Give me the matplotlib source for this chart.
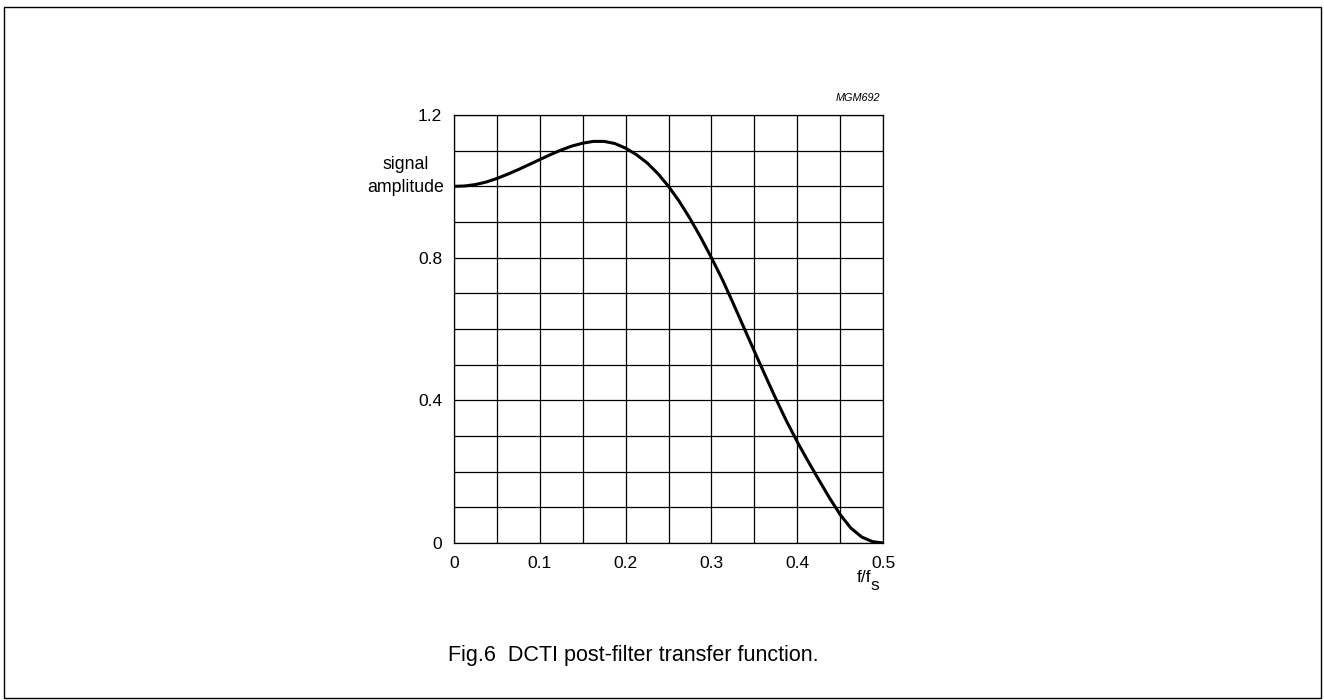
import matplotlib
matplotlib.use("Agg")
import matplotlib.pyplot as plt
from matplotlib.patches import Rectangle
import numpy as np

# values
freq = [0.0, 0.0125, 0.025, 0.0375, 0.05, 0.0625, 0.075, 0.0875, 0.1, 0.1125,
        0.125, 0.1375, 0.15, 0.1625, 0.175, 0.1875, 0.2, 0.2125, 0.225, 0.2375,
        0.25, 0.2625, 0.275, 0.2875, 0.3, 0.3125, 0.325, 0.3375, 0.35, 0.3625,
        0.375, 0.3875, 0.4, 0.4125, 0.425, 0.4375, 0.45, 0.4625, 0.475, 0.4875,
        0.5]
amplitude = [1.000, 1.001, 1.005, 1.012, 1.022, 1.034, 1.047, 1.061, 1.075, 1.089,
             1.102, 1.113, 1.121, 1.126, 1.126, 1.120, 1.107, 1.089, 1.066, 1.036,
             1.000, 0.958, 0.910, 0.857, 0.800, 0.740, 0.674, 0.606, 0.538, 0.471,
             0.405, 0.342, 0.284, 0.230, 0.178, 0.127, 0.080, 0.042, 0.017, 0.004,
             0.000]

x_ticks = [0, 0.1, 0.2, 0.3, 0.4, 0.5]
x_tick_labels = ["0", "0.1", "0.2", "0.3", "0.4", "0.5"]
y_ticks = [0, 0.4, 0.8, 1.2]
y_tick_labels = ["0", "0.4", "0.8", "1.2"]

plt.rcParams['font.family'] = ['Liberation Sans', 'DejaVu Sans']

W, H = 1324, 700
fig = plt.figure(figsize=(W / 100, H / 100), dpi=100)
ax = fig.add_axes([454 / W, 1 - 543 / H, 429 / W, 428 / H])

ax.plot(freq, amplitude, color='black', lw=2.2, solid_capstyle='round',
        solid_joinstyle='round', zorder=3)

ax.set_xlim(0, 0.5)
ax.set_ylim(0, 1.2)
ax.set_xticks(np.arange(0, 0.5001, 0.05), minor=True)
ax.set_yticks(np.arange(0, 1.2001, 0.1), minor=True)
ax.grid(True, which='both', color='black', lw=0.9)
ax.set_xticks(x_ticks)
ax.set_xticklabels(x_tick_labels)
ax.set_yticks(y_ticks)
ax.set_yticklabels(y_tick_labels)
ax.tick_params(which='both', length=0, labelsize=12.5)
ax.tick_params(axis='x', pad=9.5)
ax.tick_params(axis='y', pad=8.5)
for spine in ax.spines.values():
    spine.set_linewidth(0.9)

# axis titles placed like the datasheet figure
fig.text(405.5 / W, 1 - 169 / H, "signal", ha='center', va='baseline', fontsize=12.8)
fig.text(405.5 / W, 1 - 192 / H, "amplitude", ha='center', va='baseline', fontsize=12.8)
fig.text(857 / W, 1 - 582 / H, "f/f", ha='left', va='baseline', fontsize=12.5)
fig.text(870 / W, 1 - 590 / H, "s", ha='left', va='baseline', fontsize=12.5)
fig.text(880 / W, 1 - 98 / H, "MGM692", ha='right', va='center',
         fontsize=7.8, style='italic')

fig.text(448 / W, 1 - 656 / H, "Fig.6  DCTI post-filter transfer function.",
         ha='left', va='center', fontsize=15.5)

fig.patches.append(Rectangle((4 / W, 2 / H), 1317 / W, 691 / H,
                             transform=fig.transFigure, fill=False,
                             edgecolor='black', lw=1.0))

fig.savefig("out.png", dpi=100)
